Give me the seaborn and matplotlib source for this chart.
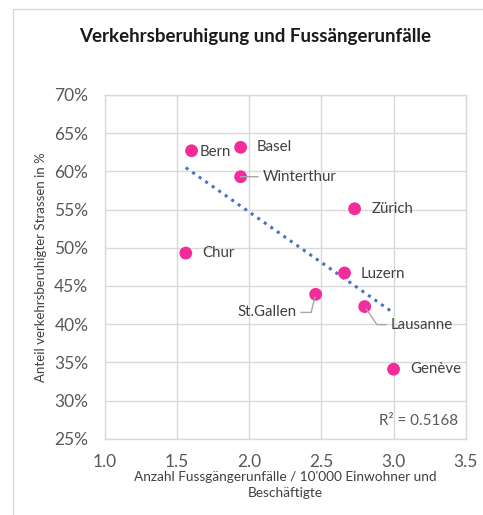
import numpy as np
import pandas as pd
import matplotlib
matplotlib.use("Agg")
import matplotlib.pyplot as plt
import seaborn as sns
from matplotlib.patches import Rectangle
from matplotlib.ticker import MultipleLocator, FuncFormatter

# data
cities = ["Bern", "Basel", "Winterthur", "Zürich", "Chur",
          "Luzern", "St.Gallen", "Lausanne", "Genève"]
accidents = [1.60, 1.94, 1.94, 2.73, 1.56, 2.66, 2.46, 2.80, 3.00]
calmed_pct = [62.7, 63.15, 59.3, 55.1, 49.3, 46.7, 43.9, 42.3, 34.1]

title = "Verkehrsberuhigung und Fussängerunfälle"
xlabel = "Anzahl Fussgängerunfälle / 10'000 Einwohner und\nBeschäftigte"
ylabel = "Anteil verkehrsberuhigter Strassen in %"
r2_text = "R² = 0.5168"

df = pd.DataFrame({"city": cities, "x": accidents, "y": calmed_pct})

sns.set_theme(style="white")
plt.rcParams["font.family"] = ["Lato", "DejaVu Sans"]

GRID = "#d9d9d9"
TXT = "#595959"
PINK = "#f42b9b"

fig = plt.figure(figsize=(4.83, 5.15), dpi=100)
ax = fig.add_axes([105 / 483, 1 - 438.7 / 515, 360.7 / 483, 343.7 / 515])

# outer chart-area frame (only left/top visible in the crop)
fig.patches.append(Rectangle((13 / 483, -0.05), 1.2, 1 - 9 / 515 + 0.05,
                             transform=fig.transFigure, fill=False,
                             edgecolor=GRID, linewidth=1.0))

# linear trendline
slope, icpt = np.polyfit(df["x"], df["y"], 1)
tx = np.array([df["x"].min(), df["x"].max()])
trend = pd.DataFrame({"x": tx, "y": icpt + slope * tx})
sns.lineplot(data=trend, x="x", y="y", ax=ax, color="#4472c4",
             linestyle=(0, (1, 1.6)), linewidth=2.2, zorder=2)

sns.scatterplot(data=df, x="x", y="y", ax=ax, color=PINK, s=85,
                edgecolor="none", zorder=3)

# data labels: (dx, dy) in points, ha, leader connection
offsets = {
    "Bern": (5.5, -0.7, "left", None),
    "Basel": (11.5, 0, "left", None),
    "Winterthur": (16, 0, "left", "straight"),
    "Zürich": (12, 0, "left", None),
    "Chur": (12, 0, "left", None),
    "Luzern": (11.5, -1, "left", None),
    "St.Gallen": (-14, -13, "right", "angle,angleA=0,angleB=76,rad=0"),
    "Lausanne": (19, -13, "left", "angle,angleA=0,angleB=-56,rad=0"),
    "Genève": (12, 0, "left", None),
}
for _, row in df.iterrows():
    dx, dy, ha, conn = offsets[row["city"]]
    kw = {}
    if conn == "straight":
        kw["arrowprops"] = dict(arrowstyle="-", color="#a6a6a6", lw=1,
                                shrinkA=1, shrinkB=0, relpos=(0, 0.5))
    elif conn:
        kw["arrowprops"] = dict(arrowstyle="-", color="#a6a6a6", lw=1,
                                connectionstyle=conn, shrinkA=1, shrinkB=2,
                                relpos=(1, 0.5) if ha == "right" else (0, 0.5))
    ax.annotate(row["city"], xy=(row["x"], row["y"]), xytext=(dx, dy),
                textcoords="offset points", ha=ha, va="center",
                fontsize=10.8, color="#404040", zorder=4, **kw)

ax.text(0.979, 0.052, r2_text, transform=ax.transAxes, ha="right",
        va="center", fontsize=11, color=TXT)

ax.set_xlim(1.0, 3.5)
ax.set_ylim(25, 70)
ax.xaxis.set_major_locator(MultipleLocator(0.5))
ax.yaxis.set_major_locator(MultipleLocator(5))
ax.xaxis.set_major_formatter(FuncFormatter(lambda v, p: f"{v:.1f}"))
ax.yaxis.set_major_formatter(FuncFormatter(lambda v, p: f"{v:.0f}%"))
ax.grid(True, color=GRID, linewidth=1)
ax.set_axisbelow(True)
for s in ax.spines.values():
    s.set_color(GRID)
    s.set_linewidth(1)
ax.tick_params(axis="x", length=0, labelsize=12.5, colors=TXT, pad=11)
ax.tick_params(axis="y", length=0, labelsize=12.5, colors=TXT, pad=12)

ax.set_xlabel(xlabel, fontsize=9.8, color="#404040", labelpad=0.5,
              linespacing=1.4)
ax.set_ylabel(ylabel, fontsize=9.5, color="#404040", labelpad=5)

fig.text(255 / 483, 1 - 36 / 515, title, ha="center", va="center",
         fontsize=13.5, fontweight="bold", color="#1a1a1a")

fig.savefig("out.png", dpi=100)
